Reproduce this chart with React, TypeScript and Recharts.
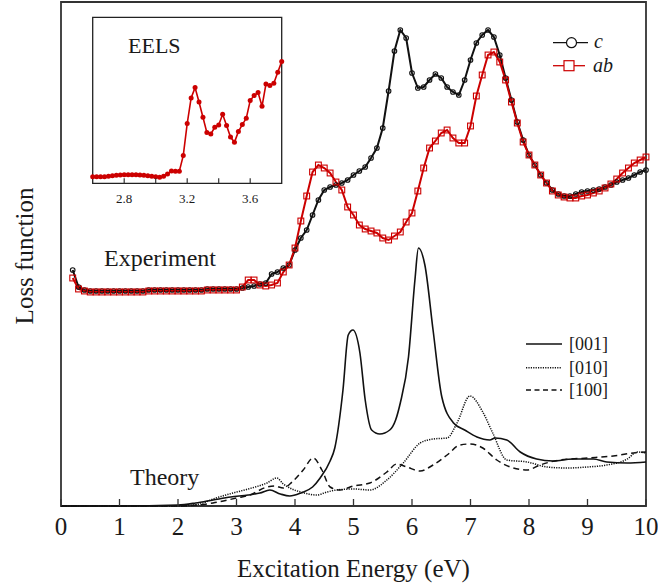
import React from 'react';
import { LineChart, Line, XAxis, YAxis, ReferenceArea } from 'recharts';

const serif = "'Liberation Serif', 'Times New Roman', serif";
const red = '#cc0000';
const ink = '#1a1a1a';

// experiment (arbitrary units), energies in eV
const expEnergy = [
  0.2, 0.3, 0.4, 0.5, 0.6, 0.7, 0.8, 0.9, 1.0, 1.1, 1.2, 1.3, 1.4, 1.5, 1.6, 1.7, 1.8, 1.9, 2.0, 2.1,
  2.2, 2.3, 2.4, 2.5, 2.6, 2.7, 2.8, 2.9, 3.0, 3.1, 3.2, 3.3, 3.4, 3.5, 3.6, 3.7, 3.8, 3.9, 4.0, 4.1,
  4.2, 4.3, 4.4, 4.5, 4.6, 4.7, 4.8, 4.9, 5.0, 5.1, 5.2, 5.3, 5.4, 5.5, 5.6, 5.7, 5.8, 5.9, 6.0, 6.1,
  6.2, 6.3, 6.4, 6.5, 6.6, 6.7, 6.8, 6.9, 7.0, 7.1, 7.2, 7.3, 7.4, 7.5, 7.6, 7.7, 7.8, 7.9, 8.0, 8.1,
  8.2, 8.3, 8.4, 8.5, 8.6, 8.7, 8.8, 8.9, 9.0, 9.1, 9.2, 9.3, 9.4, 9.5, 9.6, 9.7, 9.8, 9.9, 10.0,
];

const lossC = [
  236, 219, 216, 215, 215, 215, 215, 215, 215, 215, 215, 215, 215, 216, 216, 216, 216, 216, 216, 216,
  216, 216, 216, 217, 217, 217, 217, 217, 217,
  218, 219, 220, 222, 223, 232, 234, 238, 241, 256,
  268, 276, 291, 306, 316, 319, 321, 323, 326, 331,
  335, 339, 348, 358, 378, 415, 455, 476, 468, 433,
  418, 419, 426, 432, 428, 419, 414, 411, 426, 446,
  463, 471, 476, 469, 451, 428, 406, 384, 366, 351,
  341, 331, 323, 316, 312, 310, 310, 312, 314, 315,
  316, 317, 319, 321, 324, 326, 328, 331, 334, 336,
];

const lossAB = [
  228, 217, 215, 214, 214, 214, 214, 214, 214, 214, 214, 214, 214, 215, 215, 215, 215, 215, 215, 215,
  215, 215, 215, 216, 216, 216, 216, 216, 216,
  219, 226, 226, 221, 220, 221, 223, 234, 241, 258,
  285, 310, 334, 341, 338, 333, 324, 316, 299, 291,
  281, 277, 275, 273, 268, 266, 270, 274, 284, 293,
  315, 338, 358, 365, 373, 376, 368, 363, 363, 380,
  410, 431, 451, 454, 444, 426, 404, 383, 364, 351,
  341, 331, 323, 315, 311, 309, 308, 308, 310, 311,
  313, 315, 318, 322, 327, 333, 338, 343, 346, 349,
];

// theory
const t001Energy = [0, 1, 2, 2.3, 2.6, 2.9, 3.2, 3.4, 3.57, 3.75, 3.91, 4.1, 4.3, 4.43, 4.6, 4.68, 4.82, 4.91, 4.99, 5.11, 5.2, 5.31, 5.45, 5.62, 5.72, 5.8, 5.94, 6.05, 6.11, 6.22, 6.36, 6.51, 6.71, 6.9, 7.11, 7.33, 7.42, 7.62, 7.85, 8.13, 8.41, 8.75, 9.1, 9.33, 9.68, 10];
const t001Loss = [0, 0, 1, 3, 6, 9, 11, 13, 16, 12, 10, 13, 19, 28, 45, 58, 116, 171, 176, 153, 106, 76, 72, 76, 86, 103, 149, 226, 258, 241, 176, 109, 83, 76, 69, 66, 68, 66, 54, 47, 45, 47, 47, 44, 43, 44];

const t010Energy = [0, 2, 2.37, 2.6, 2.94, 3.2, 3.52, 3.69, 3.8, 3.91, 4.1, 4.37, 4.55, 4.71, 5.0, 5.28, 5.57, 5.85, 6.14, 6.36, 6.6, 6.77, 6.99, 7.21, 7.38, 7.62, 7.97, 8.31, 8.65, 9.0, 9.33, 9.68, 9.85, 10];
const t010Loss = [0, 0, 2, 7, 13, 17, 23, 28, 22, 18, 14, 11, 14, 16, 17, 16, 26, 43, 63, 67, 68, 83, 110, 94, 73, 46, 44, 39, 38, 39, 41, 47, 54, 53];

const t100Energy = [0, 2, 2.6, 3.0, 3.23, 3.52, 3.65, 3.8, 3.95, 4.14, 4.31, 4.46, 4.6, 4.77, 5.0, 5.28, 5.57, 5.74, 5.91, 6.14, 6.36, 6.6, 6.82, 6.99, 7.21, 7.45, 7.68, 7.97, 8.19, 8.53, 9.0, 9.44, 9.78, 10];
const t100Loss = [0, 0, 3, 8, 11, 19, 20, 18, 24, 36, 48, 36, 19, 16, 20, 23, 34, 42, 39, 35, 41, 51, 61, 62, 58, 46, 39, 36, 41, 46, 48, 50, 53, 54];

// inset EELS
const eelsEnergy = [
  2.6, 2.625, 2.65, 2.675, 2.7, 2.725, 2.75, 2.775, 2.8, 2.825, 2.85, 2.875, 2.9, 2.925, 2.95, 2.975,
  3.0, 3.025, 3.05, 3.075, 3.1, 3.125, 3.15, 3.175, 3.2, 3.225, 3.25, 3.275, 3.3, 3.325, 3.35, 3.375,
  3.4, 3.425, 3.45, 3.475, 3.5, 3.525, 3.55, 3.575, 3.6, 3.625, 3.65, 3.675, 3.7, 3.725, 3.75, 3.775, 3.8,
];
const eelsLoss = [
  6.5, 6.5, 6.5, 6.5, 7, 7.5, 8, 8.3, 8.5, 8.5, 8.5, 8.5, 8.3, 8, 7.5, 7,
  6.5, 6, 7, 9.3, 12.3, 12, 12, 27.7, 59.7, 85.3, 95.7, 81.3, 66, 50.7, 49.3, 56,
  58.3, 69, 57.7, 46.3, 41, 51.7, 58.7, 65, 82.7, 87.7, 90.7, 77, 99.3, 97.7, 100, 111, 121.7,
];

const xTicks = [0, 1, 2, 3, 4, 5, 6, 7, 8, 9, 10];
const eelsTicks = [2.8, 3.0, 3.2, 3.4, 3.6];
const eelsLabelled = ['2.8', '3.2', '3.6'];

const expData = expEnergy.map((e, i) => ({ e, c: lossC[i], ab: lossAB[i] }));
const toPts = (es: number[], vs: number[]) => es.map((e, i) => ({ e, v: vs[i] }));
const t001 = toPts(t001Energy, t001Loss);
const t010 = toPts(t010Energy, t010Loss);
const t100 = toPts(t100Energy, t100Loss);
const eels = toPts(eelsEnergy, eelsLoss);

function MainTick({ x, y, payload }: any) {
  return (
    <g>
      <line x1={x} x2={x} y1={y - 7} y2={y} stroke="#333" strokeWidth={1.3} />
      <text x={x} y={y + 29} textAnchor="middle" fontSize={25} fill={ink} fontFamily={serif}>
        {payload.value}
      </text>
    </g>
  );
}

function InsetTick({ x, y, payload }: any) {
  const label = payload.value.toFixed(1);
  return (
    <g>
      <line x1={x} x2={x} y1={y - 5} y2={y} stroke="#333" strokeWidth={1.2} />
      {eelsLabelled.includes(label) && (
        <text x={x} y={y + 20} textAnchor="middle" fontSize={13} fill={ink} fontFamily={serif}>
          {label}
        </text>
      )}
    </g>
  );
}

const openCircle = (p: any) => (
  <circle key={`c-${p.index}`} cx={p.cx} cy={p.cy} r={2.3} fill="none" stroke="#111" strokeWidth={1.1} />
);
const openSquare = (p: any) => (
  <rect key={`s-${p.index}`} x={p.cx - 2.9} y={p.cy - 2.9} width={5.8} height={5.8} fill="none" stroke={red} strokeWidth={1.1} />
);
const filledDot = (p: any) => (
  <circle key={`d-${p.index}`} cx={p.cx} cy={p.cy} r={2.5} fill={red} stroke="none" />
);

export default function App() {
  return (
    <div style={{ position: 'absolute', left: 0, top: 0, width: 658, height: 583, background: '#fff' }}>
      <LineChart width={658} height={583} margin={{ top: 2, right: 12, left: 61, bottom: 37 }}>
        <XAxis dataKey="e" type="number" domain={[0, 10]} ticks={xTicks} interval={0}
          axisLine={false} tickLine={false} tickSize={0} tickMargin={0} height={40} tick={<MainTick />} />
        <YAxis hide width={0} domain={[0, 504]} />
        <ReferenceArea x1={0} x2={10} y1={0} y2={504} fill="none" stroke="#333" strokeWidth={1.8} fillOpacity={0} />
        <Line data={t100} dataKey="v" type="monotone" stroke="#111" strokeWidth={1.5} strokeDasharray="6 4" dot={false} isAnimationActive={false} />
        <Line data={t010} dataKey="v" type="monotone" stroke="#111" strokeWidth={1.5} strokeDasharray="1.2 1.2" dot={false} isAnimationActive={false} />
        <Line data={t001} dataKey="v" type="monotone" stroke="#111" strokeWidth={1.6} dot={false} isAnimationActive={false} />
        <Line data={expData} dataKey="c" type="linear" stroke="#111" strokeWidth={2} dot={openCircle} isAnimationActive={false} />
        <Line data={expData} dataKey="ab" type="linear" stroke={red} strokeWidth={2} dot={openSquare} isAnimationActive={false} />
      </LineChart>

      <div style={{ position: 'absolute', left: 80, top: 10 }}>
        <LineChart width={215} height={200} margin={{ top: 7.3, right: 13.3, left: 12.7, bottom: 6.7 }}>
          <XAxis dataKey="e" type="number" domain={[2.6, 3.8]} ticks={eelsTicks} interval={0}
            axisLine={false} tickLine={false} tickSize={0} tickMargin={0} height={20} tick={<InsetTick />} />
          <YAxis hide width={0} domain={[0, 166]} />
          <ReferenceArea x1={2.6} x2={3.8} y1={0} y2={166} fill="none" stroke="#222" strokeWidth={1.3} fillOpacity={0} />
          <Line data={eels} dataKey="v" type="linear" stroke={red} strokeWidth={1.6} dot={filledDot} isAnimationActive={false} />
        </LineChart>
      </div>

      <svg width={658} height={583} style={{ position: 'absolute', left: 0, top: 0, pointerEvents: 'none' }}>
        <g fontFamily={serif} fill={ink}>
          <text x={128} y={53} fontSize={22}>EELS</text>
          <text x={104} y={266} fontSize={24}>Experiment</text>
          <text x={130} y={485} fontSize={24}>Theory</text>
          <text x={353.5} y={577} fontSize={25} textAnchor="middle">Excitation Energy (eV)</text>
          <text transform="translate(33,256) rotate(-90)" fontSize={25} textAnchor="middle">Loss function</text>

          {/* experiment legend */}
          <line x1={553} x2={588} y1={42.7} y2={42.7} stroke="#111" strokeWidth={1.3} />
          <circle cx={571.5} cy={42.7} r={5} fill="#fff" stroke="#111" strokeWidth={1.2} />
          <text x={594} y={48} fontSize={20} fontStyle="italic">c</text>
          <line x1={553} x2={585} y1={65.7} y2={65.7} stroke={red} strokeWidth={1.3} />
          <rect x={564} y={60.7} width={10} height={10} fill="#fff" stroke={red} strokeWidth={1.2} />
          <text x={593} y={71.5} fontSize={20} fontStyle="italic">ab</text>

          {/* theory legend */}
          <line x1={526} x2={562} y1={344} y2={344} stroke="#111" strokeWidth={1.6} />
          <line x1={526} x2={562} y1={367.7} y2={367.7} stroke="#111" strokeWidth={1.5} strokeDasharray="1.2 1.2" />
          <line x1={526} x2={562} y1={390} y2={390} stroke="#111" strokeWidth={1.5} strokeDasharray="5 3.5" />
          <text x={569} y={350} fontSize={18}>[001]</text>
          <text x={569} y={373.5} fontSize={18}>[010]</text>
          <text x={569} y={396} fontSize={18}>[100]</text>
        </g>
      </svg>
    </div>
  );
}
